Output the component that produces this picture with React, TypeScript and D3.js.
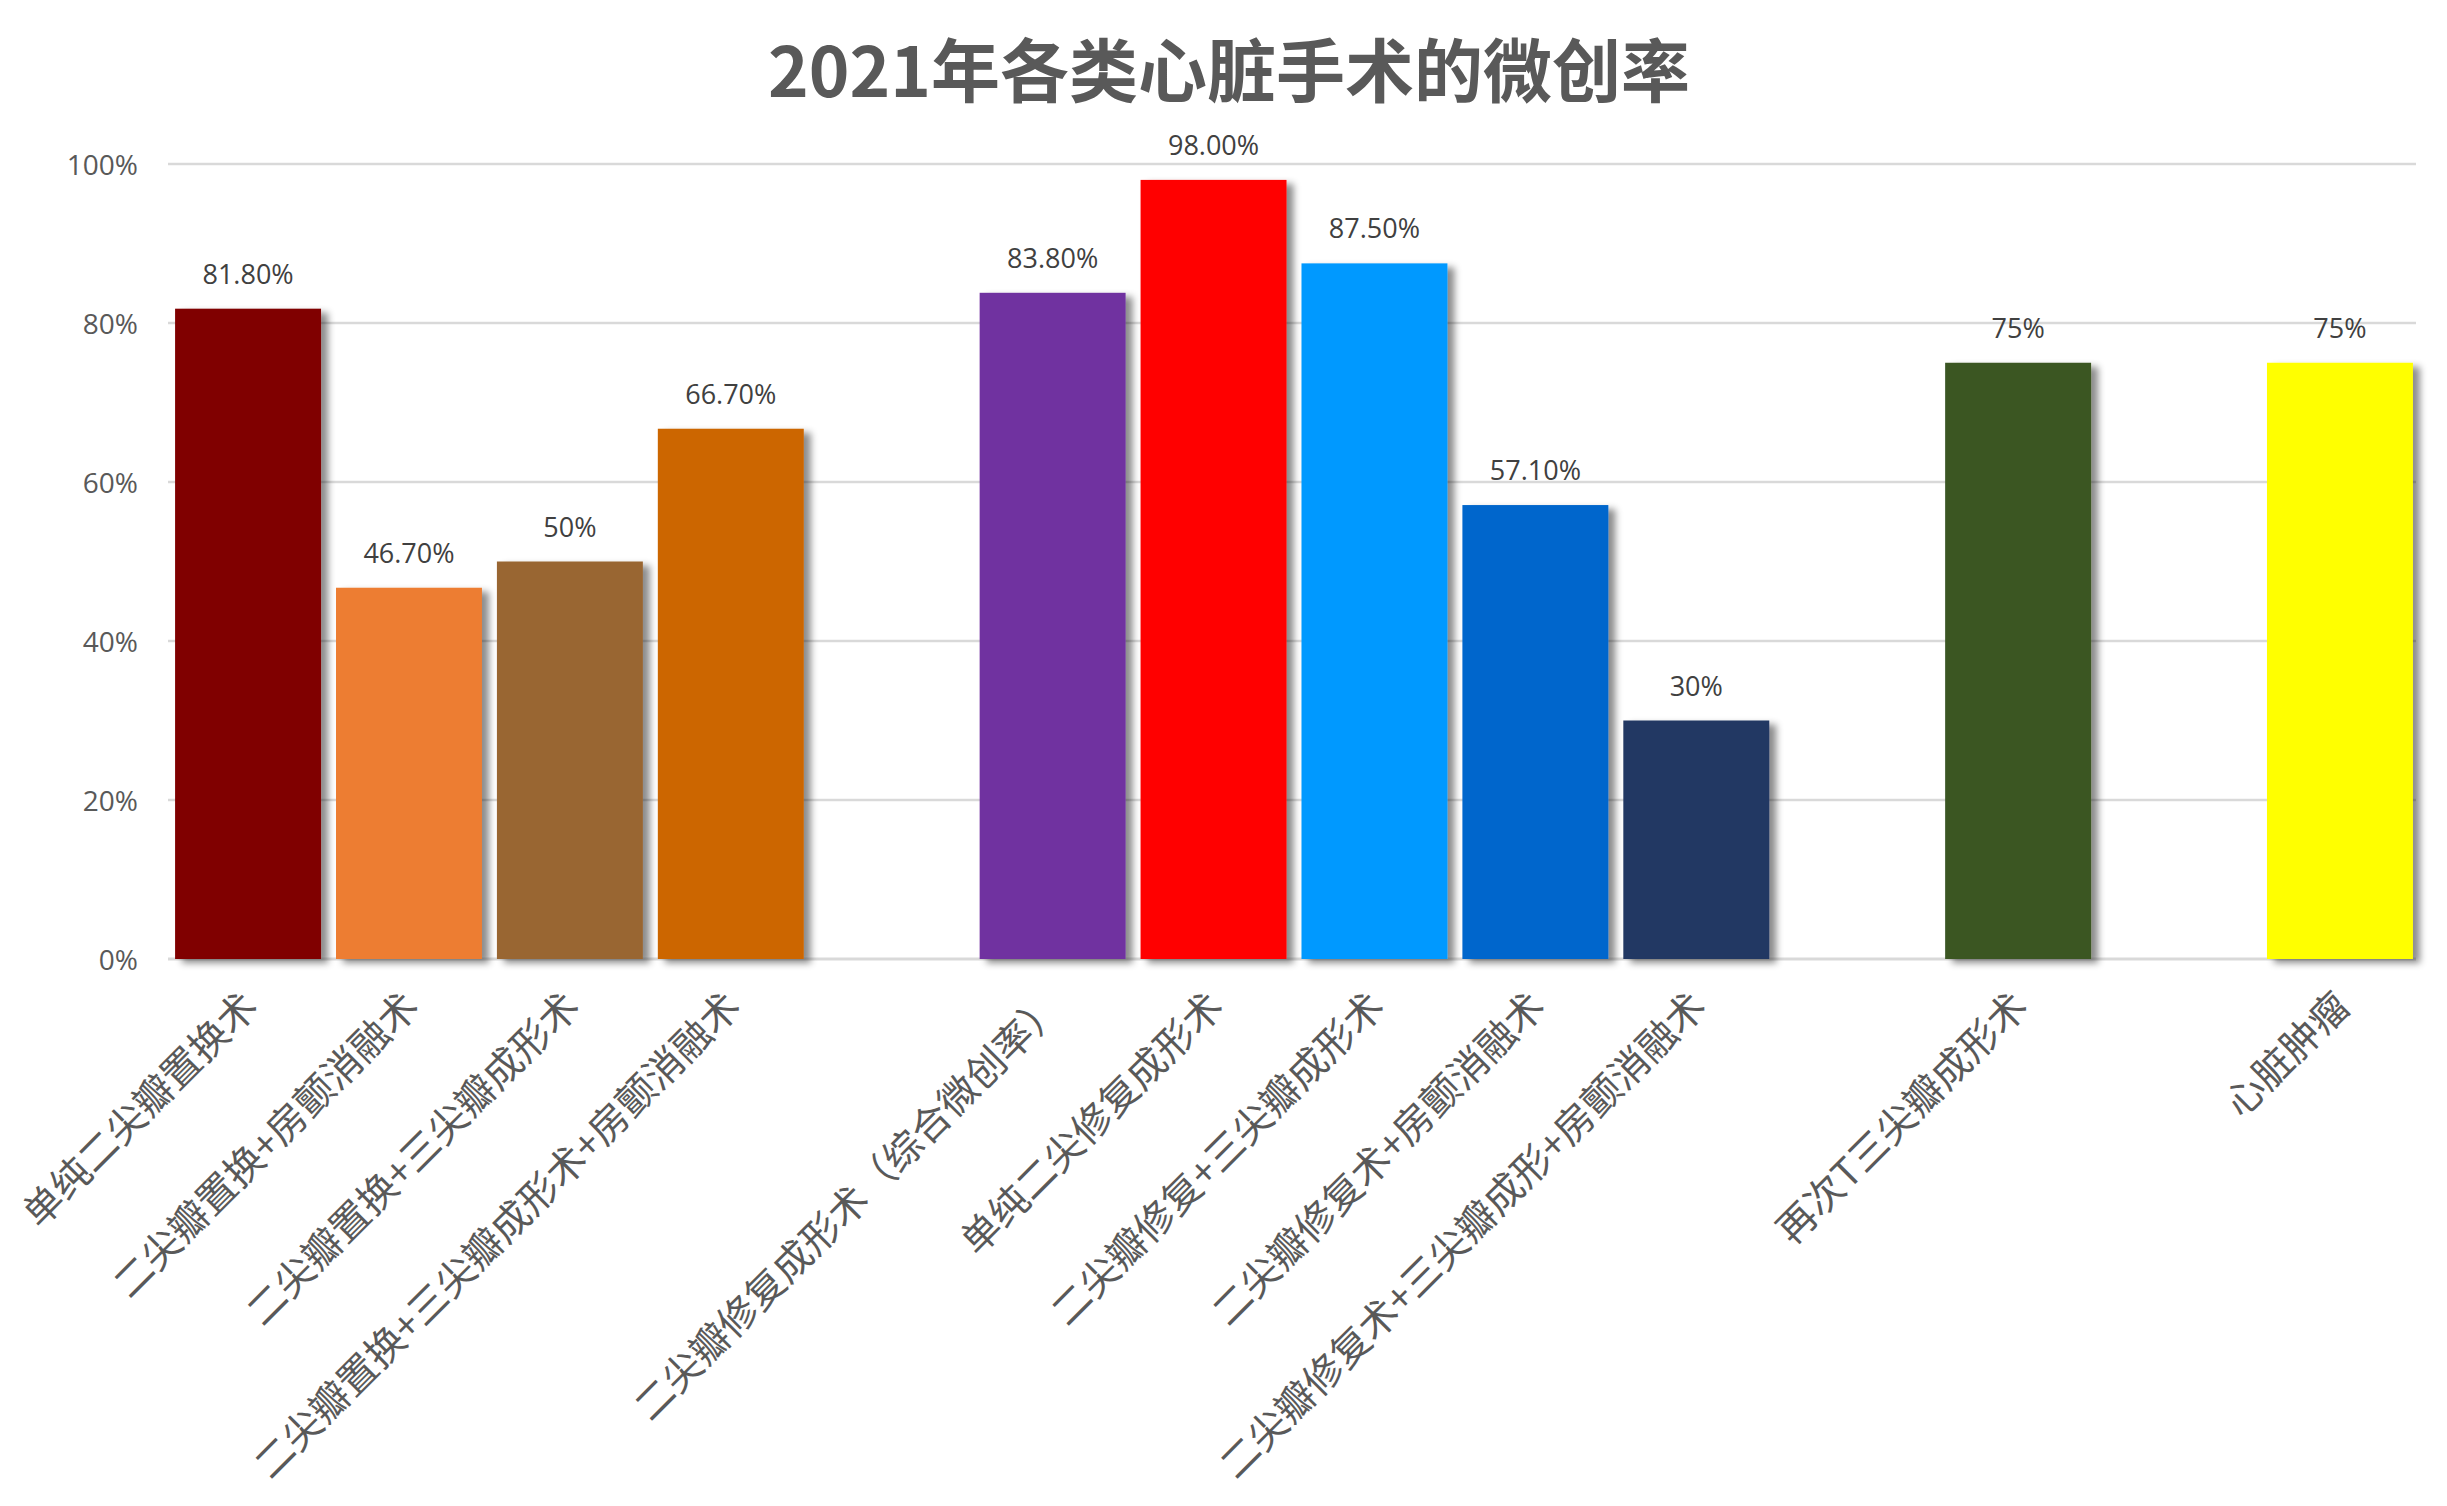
import React, { useEffect } from "react";
import * as d3 from "d3";

const title = "2021年各类心脏手术的微创率";
const categories = [
  "单纯二尖瓣置换术",
  "二尖瓣置换+房颤消融术",
  "二尖瓣置换+三尖瓣成形术",
  "二尖瓣置换+三尖瓣成形术+房颤消融术",
  "",
  "二尖瓣修复成形术（综合微创率）",
  "单纯二尖修复成形术",
  "二尖瓣修复+三尖瓣成形术",
  "二尖瓣修复术+房颤消融术",
  "二尖瓣修复术+三尖瓣成形+房颤消融术",
  "",
  "再次T三尖瓣成形术",
  "",
  "心脏肿瘤",
];
const values: (number | null)[] = [81.8, 46.7, 50, 66.7, null, 83.8, 98, 87.5, 57.1, 30, null, 75, null, 75];
const valueLabels = ["81.80%", "46.70%", "50%", "66.70%", "", "83.80%", "98.00%", "87.50%", "57.10%", "30%", "", "75%", "", "75%"];
const barColors = [
  "#800000", "#ED7D31", "#996633", "#CC6600", "none",
  "#7030A0", "#FF0000", "#0099FF", "#0066CC", "#203864", "none",
  "#3A5623", "none", "#FFFF00",
];
const yTicks = [0, 20, 40, 60, 80, 100];

const W = 2447;
const H = 1506;
const left = 168;
const right = 2416;
const top = 164;
const bottom = 959;

export default function App() {
  useEffect(() => {
    document.body.style.margin = "0";
  }, []);

  const keys = categories.map((_, i) => String(i));
  const x = d3.scaleBand<string>().domain(keys).range([left, 2420]).paddingInner(0.093).paddingOuter(0.044);
  const y = d3.scaleLinear().domain([0, 100]).range([bottom, top]);
  const numFont = "'Open Sans', Lato, sans-serif";
  const cjkFont = "'Noto Sans CJK SC', 'Noto Sans', sans-serif";

  return (
    <svg width={W} height={H} style={{ display: "block", background: "#fff" }}>
      <defs>
        <filter id="sh" x="-20%" y="-10%" width="150%" height="130%">
          <feDropShadow dx="7" dy="4" stdDeviation="3.5" floodColor="#000" floodOpacity="0.45" />
        </filter>
      </defs>
      <rect x={0} y={0} width={W} height={H} fill="#fff" />
      <text x={1229} y={67} textAnchor="middle" dominantBaseline="central" fontFamily={cjkFont} fontWeight={700} fontSize={69} fill="#595959">
        {title}
      </text>
      {yTicks.map((t) => (
        <g key={t}>
          <line x1={left} x2={right} y1={y(t)} y2={y(t)} stroke="#D9D9D9" strokeWidth={t === 0 ? 3 : 2.7} />
          <text x={138} y={y(t)} textAnchor="end" dominantBaseline="central" fontFamily={numFont} fontSize={28} fill="#595959">
            {t + "%"}
          </text>
        </g>
      ))}
      {values.map((v, i) =>
        v == null ? null : (
          <rect key={i} x={x(keys[i])} y={y(v)} width={x.bandwidth()} height={y(0) - y(v)} fill={barColors[i]} filter="url(#sh)" />
        )
      )}
      {values.map((v, i) =>
        v == null ? null : (
          <text key={i} x={(x(keys[i]) as number) + x.bandwidth() / 2} y={y(v) - 25} textAnchor="middle" fontFamily={numFont} fontSize={27} fill="#404040">
            {valueLabels[i]}
          </text>
        )
      )}
      {categories.map((c, i) => {
        if (!c) return null;
        const cx = (x(keys[i]) as number) + x.bandwidth() / 2;
        const cy = bottom + 38;
        return (
          <text key={i} transform={`translate(${cx},${cy}) rotate(-45)`} textAnchor="end" dominantBaseline="central" fontFamily={cjkFont} fontSize={39} fill="#595959">
            {c}
          </text>
        );
      })}
    </svg>
  );
}
